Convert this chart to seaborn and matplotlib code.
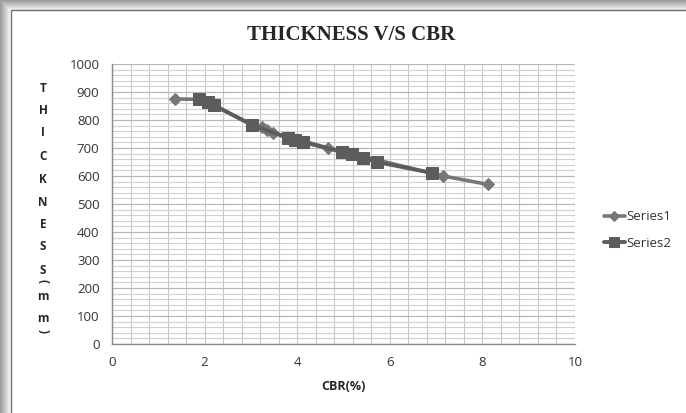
import numpy as np
import pandas as pd
import matplotlib
matplotlib.use("Agg")
import matplotlib.pyplot as plt
from matplotlib.ticker import MultipleLocator
import seaborn as sns

# data
s1_cbr = [1.36, 1.90, 2.08, 2.21, 3.03, 3.24, 3.35, 3.48, 4.67, 7.15, 8.12]
s1_thk = [875, 874, 863, 852, 782, 775, 765, 755, 700, 600, 570]
s2_cbr = [1.87, 2.07, 2.21, 3.03, 3.80, 3.95, 4.13, 4.97, 5.18, 5.42, 5.72, 6.91]
s2_thk = [875, 864, 852, 782, 736, 729, 721, 686, 679, 664, 650, 611]
x_ticks = [0, 2, 4, 6, 8, 10]
y_ticks = [0, 100, 200, 300, 400, 500, 600, 700, 800, 900, 1000]
title = "THICKNESS V/S CBR"
xlabel = "CBR(%)"
ylabel_chars = list("THICKNESS(mm)")

sns.set_style("white")
plt.rcParams['font.family'] = ['Open Sans', 'DejaVu Sans']

fig = plt.figure(figsize=(6.86, 4.13), dpi=100)
fig.patch.set_facecolor('white')

# outer frame with shadow (left/top)
for i in range(11):
    c = 0.62 + 0.035 * i
    fig.add_artist(plt.Rectangle(((i) / 686, 0), 1 / 686, 1 - (i) / 413, transform=fig.transFigure,
                                 color=(c, c, c), lw=0, zorder=0))
    fig.add_artist(plt.Rectangle(((i) / 686, 1 - (i + 1) / 413), 1, 1 / 413, transform=fig.transFigure,
                                 color=(c, c, c), lw=0, zorder=0))
fig.add_artist(plt.Rectangle((11 / 686, -0.01), 1, 1.01 - 10 / 413, transform=fig.transFigure,
                             facecolor='white', edgecolor='#707070', lw=1.0, zorder=1))

ax = fig.add_axes([112 / 686, 1 - 344 / 413, 463 / 686, 280 / 413])
ax.set_facecolor('none')
ax.set_zorder(2)

df1 = pd.DataFrame({"CBR": s1_cbr, "T": s1_thk})
df2 = pd.DataFrame({"CBR": s2_cbr, "T": s2_thk})
sns.lineplot(data=df1, x="CBR", y="T", ax=ax, color="#777777", lw=2.6, marker="D", markersize=6,
             markeredgecolor="#777777", sort=False, label="Series1", zorder=4)
sns.lineplot(data=df2, x="CBR", y="T", ax=ax, color="#5c5c5c", lw=2.8, marker="s", markersize=9,
             markeredgecolor="#5c5c5c", sort=False, label="Series2", zorder=5)

ax.set_xlim(0, 10)
ax.set_ylim(0, 1000)
ax.set_xticks(x_ticks)
ax.set_yticks(y_ticks)
ax.xaxis.set_minor_locator(MultipleLocator(0.4))
ax.yaxis.set_minor_locator(MultipleLocator(20))
ax.grid(which='major', axis='y', color='#b8b8b8', lw=0.9)
ax.grid(which='minor', axis='y', color='#d0d0d0', lw=0.8)
ax.grid(which='minor', axis='x', color='#c8c8c8', lw=0.8)
ax.grid(which='major', axis='x', color='#c8c8c8', lw=0.8)
ax.set_axisbelow(True)
for s in ['top', 'right']:
    ax.spines[s].set_visible(False)
for s in ['left', 'bottom']:
    ax.spines[s].set_color('#8a8a8a')
    ax.spines[s].set_linewidth(1.0)
ax.tick_params(which='major', length=5, color='#8a8a8a', width=1, labelsize=9.5, labelcolor='#333333', pad=4)
ax.tick_params(which='minor', length=0)
ax.set_xlabel("")
ax.set_ylabel("")

fig.text(351 / 686, 1 - 35 / 413, title, ha='center', va='center', fontsize=15,
         fontweight='bold', family=['Liberation Serif'])
fig.text(343 / 686, 1 - 387 / 413, xlabel, ha='center', va='center', fontsize=9, fontweight='bold')

ys = [88, 111, 133, 157, 179, 202, 224, 247, 270, 281, 297, 318, 331]
for ch, yy in zip(ylabel_chars, ys):
    rot = 0
    if ch in '()':
        rot = -90
    fig.text(43 / 686, 1 - yy / 413, ch, ha='center', va='center', fontsize=8.5,
             fontweight='bold', rotation=rot)

leg = ax.legend(loc='center left', bbox_to_anchor=(592 / 686, 1 - 230 / 413),
                bbox_transform=fig.transFigure, frameon=False, fontsize=9.5,
                handlelength=1.6, handletextpad=0.1, labelspacing=1.0, markerscale=0.85)
for t in leg.get_texts():
    t.set_color('#333333')

fig.savefig("out.png", dpi=100)
